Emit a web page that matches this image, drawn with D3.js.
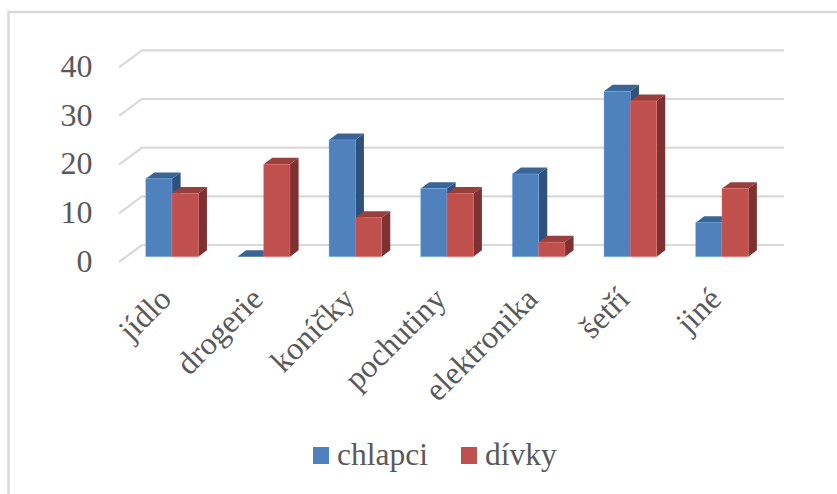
<!DOCTYPE html>
<html>
<head>
<meta charset="utf-8">
<script src="https://cdn.jsdelivr.net/npm/d3@7/dist/d3.min.js"></script>
<style>
html,body{margin:0;padding:0;background:#fff;}
svg{display:block;}
text{font-family:"Liberation Serif",serif;fill:#595959;}
</style>
</head>
<body>
<div id="chart"></div>
<script>
const categories = ["jídlo","drogerie","koníčky","pochutiny","elektronika","šetří","jiné"];
const chlapci = [16,0,24,14,17,34,7];
const divky = [13,19,8,13,3,32,14];
const seriesNames = ["chlapci","dívky"];
const tickValues = [0,10,20,30,40];

const W = 837, H = 494;
const svg = d3.select("#chart").append("svg").attr("width",W).attr("height",H);

// frame around the chart area, open on the right
svg.append("path")
  .attr("d",`M8.5 ${H} V12 H${W}`)
  .attr("fill","none").attr("stroke","#d9d9d9").attr("stroke-width",2.5);

// base line of the bars' front faces, and the depth of the box
const y = d3.scaleLinear().domain([0,40]).range([256.7,62]);
const x = d3.scaleBand().domain(categories).range([126.2,767.8]);
const barW = x.step()*0.287;
const barDx = 8.6, barDy = 6.4;
const wallDx = 23, wallDy = 17;

// gridlines run across the back wall and fold forward along the side wall
const gridG = svg.append("g");
tickValues.forEach(t=>{
  const yFront = y(t)+5.3;
  const p = d3.path();
  p.moveTo(119,yFront);
  p.lineTo(119+wallDx,yFront-wallDy);
  p.lineTo(784,yFront-wallDy);
  gridG.append("path").attr("d",p.toString())
    .attr("fill","none").attr("stroke","#d9d9d9").attr("stroke-width",2.2);
});

// y axis labels
svg.append("g").selectAll("text").data(tickValues).join("text")
  .attr("x",92.5).attr("y",t=>y(t)+15)
  .attr("text-anchor","end").attr("font-size",32)
  .text(d=>d);

const palettes = [
  {front:"#4f81bd",top:"#3a6496",side:"#2f527c"},
  {front:"#c0504d",top:"#973f3d",side:"#7d3130"}
];

// one extruded bar: side, top, then front face
function drawBar(g,x0,v,pal){
  const yT = y(v), yB = y(0);
  const x1 = x0+barW;
  g.append("path").attr("fill",pal.side)
    .attr("d",`M${x1} ${yT}L${x1+barDx} ${yT-barDy}L${x1+barDx} ${yB-barDy}L${x1} ${yB}Z`);
  g.append("path").attr("fill",pal.top)
    .attr("d",`M${x0} ${yT}L${x0+barDx} ${yT-barDy}L${x1+barDx} ${yT-barDy}L${x1} ${yT}Z`);
  if(v>0) g.append("rect").attr("x",x0).attr("y",yT).attr("width",barW).attr("height",yB-yT)
    .attr("fill",pal.front).attr("stroke",d3.color(pal.front).brighter(1).formatHex()).attr("stroke-opacity",0.5).attr("stroke-width",0.8);
}

const barsG = svg.append("g");
categories.forEach((c,i)=>{
  const cx = x(c)+x.bandwidth()/2;
  drawBar(barsG,cx-barW,chlapci[i],palettes[0]);
  drawBar(barsG,cx,divky[i],palettes[1]);
});

// rotated category labels
svg.append("g").selectAll("text").data(categories).join("text")
  .attr("text-anchor","end").attr("font-size",32)
  .attr("transform",c=>`translate(${x(c)+x.bandwidth()/2+1},${301}) rotate(-45)`)
  .text(c=>c);

// legend
const legend = svg.append("g");
[[313,337],[461,485]].forEach(([sx,tx],i)=>{
  legend.append("rect").attr("x",sx).attr("y",447).attr("width",16).attr("height",17)
    .attr("fill",palettes[i].front);
  legend.append("text").attr("x",tx).attr("y",465).attr("font-size",31.5).text(seriesNames[i]);
});
</script>
</body>
</html>
